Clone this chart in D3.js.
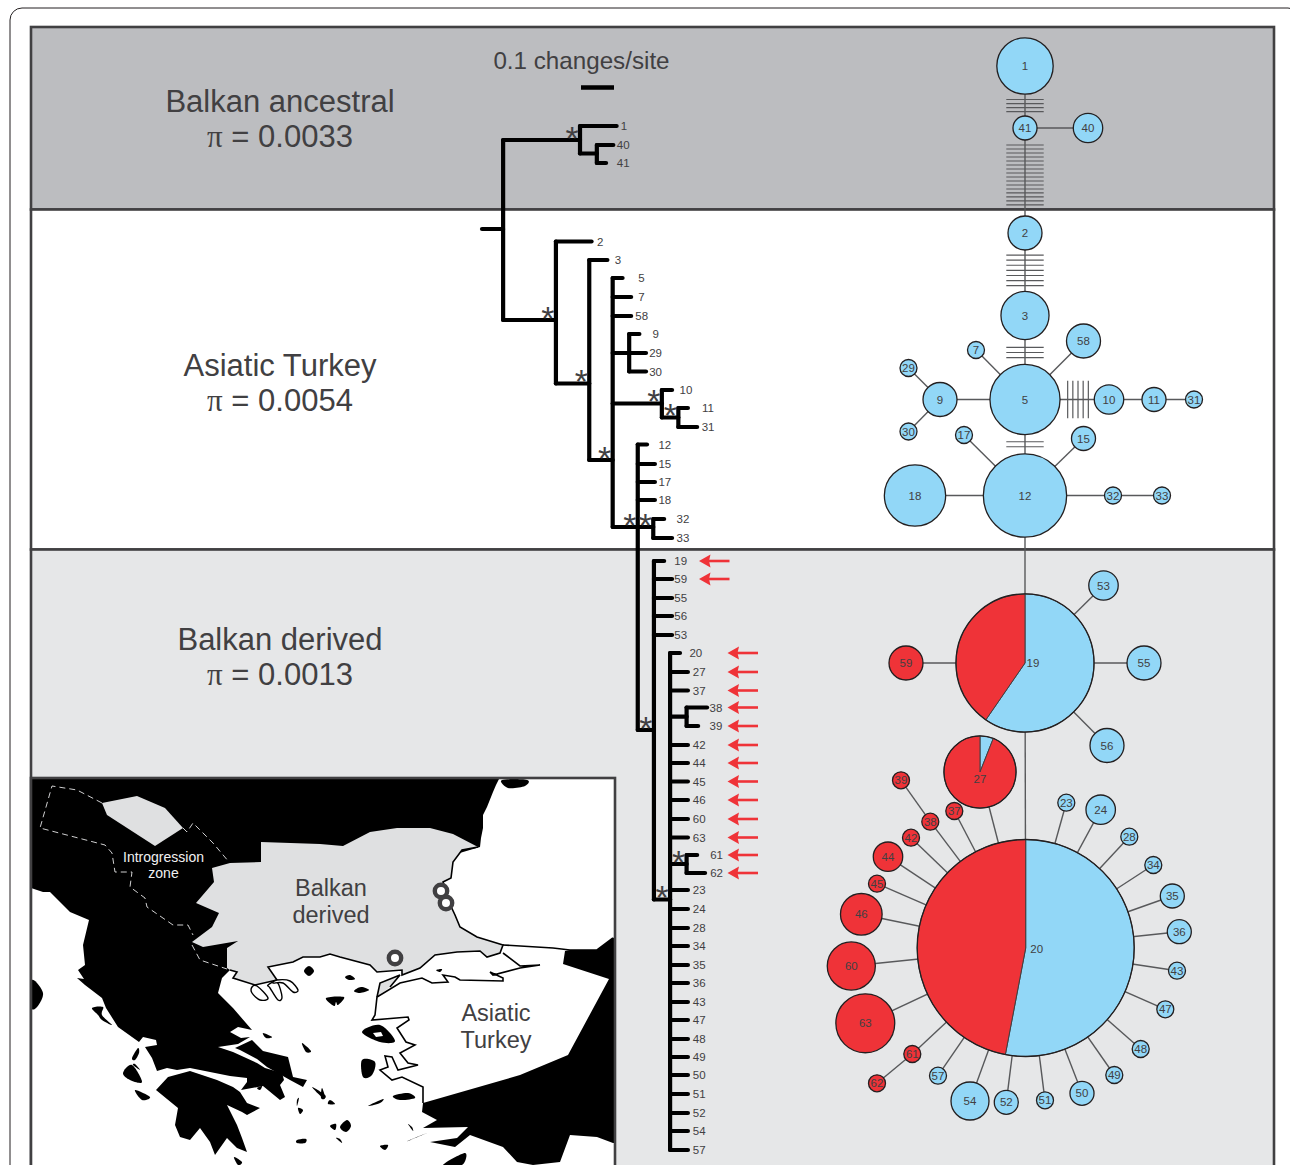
<!DOCTYPE html>
<html>
<head>
<meta charset="utf-8">
<script src="https://d3js.org/d3.v7.min.js"></script>
<style>
  html, body { margin: 0; padding: 0; background: #fff; overflow: hidden; }
  svg { display: block; }
  text { font-family: "Liberation Sans", Arial, sans-serif; fill: #414042; }
</style>
</head>
<body>
<div id="chart"></div>
<script>
const svgWidth = 1290;
const svgHeight = 1165;

// ---- bands
const bandNames = ["Balkan ancestral", "Asiatic Turkey", "Balkan derived"];
const bandPi = ["0.0033", "0.0054", "0.0013"];

// ---- tree, divergence in changes/site, height in tree units from the first tip
const nodeNames   = ["root", "A", "B", "C", "D", "E", "F", "G", "H", "I", "J", "K", "L", "M", "N"];
const nodeParents = [null, "root", "A", "root", "C", "D", "E", "E", "G", "E", "I", "I", "K", "L", "L"];
const nodeDiv     = [.064, .297, .348, .224, .325, .396, .446, .545, .595, .472, .519, .521, .570, .620, .620];
const nodeHeight  = [103, 14, 27.5, 194, 257.5, 334, 227, 277.5, 291.5, 401, 401, 604, 773.5, 590.7, 738];

const tipNames = ["1", "40", "41", "2", "3", "5", "7", "58", "9", "29", "30", "10", "11", "31", "12", "15", "17", "18", "32", "33",
  "19", "59", "55", "56", "53", "20", "27", "37", "38", "39", "42", "44", "45", "46", "60", "63", "61", "62",
  "23", "24", "28", "34", "35", "36", "43", "47", "48", "49", "50", "51", "52", "54", "57"];
const tipParents = ["A", "B", "B", "C", "D", "E", "E", "E", "F", "F", "F", "G", "H", "H", "I", "I", "I", "I", "J", "J",
  "K", "K", "K", "K", "K", "L", "L", "L", "M", "M", "L", "L", "L", "L", "L", "L", "N", "N",
  "L", "L", "L", "L", "L", "L", "L", "L", "L", "L", "L", "L", "L", "L", "L"];
const tipDiv = [.408, .398, .376, .332, .380, .426, .452, .452, .477, .497, .497, .576, .624, .652, .500, .524, .524, .524, .552, .576,
  .552, .576, .576, .576, .576, .600, .624, .624, .682, .655, .624, .624, .624, .624, .624, .624, .652, .676,
  .624, .624, .624, .624, .624, .624, .624, .624, .624, .624, .624, .624, .624, .624, .624];
const tipHeight = [0, 19, 37, 115.5, 134, 152, 171, 190, 208, 227, 245.5, 264, 282, 301, 318.5, 338, 356, 374, 393, 412,
  435, 453, 472, 490, 509, 527, 546, 564.5, 581.5, 600, 619, 637, 655.5, 674, 693, 711.5, 729, 747,
  764, 783, 802, 820, 839, 857, 876, 894, 913, 931, 949, 968, 987, 1005, 1024];
const labelDiv = [.430, .428, .428, .358, .412, .483, .483, .484, .526, .526, .526, .618, .685, .685, .554, .554, .554, .554, .609, .609,
  .602, .602, .602, .602, .602, .648, .658, .658, .709, .709, .658, .658, .658, .658, .658, .658, .711, .711,
  .658, .658, .658, .658, .658, .658, .658, .658, .658, .658, .658, .658, .658, .658, .658];
const supportedNodes = ["A", "C", "D", "E", "G", "H", "I", "J", "K", "L", "N"];
const arrowTips = ["19", "59", "20", "27", "37", "38", "39", "42", "44", "45", "46", "60", "63", "61", "62"];

// ---- haplotype network, offsets in network units, counts of sampled sequences
const hapNames = ["1", "41", "40", "2", "3", "58", "7", "5", "9", "29", "30", "10", "11", "31", "17", "15", "12", "18", "32", "33",
  "19", "53", "55", "56", "59", "27", "20", "23", "24", "28", "34", "35", "36", "43", "47", "48", "49", "50", "51", "52", "54", "57",
  "61", "62", "63", "60", "46", "45", "44", "42", "38", "39", "37"];
const hapDx = [0, 0, 63, 0, 0, 58.5, -49, 0, -85, -116.5, -116.5, 84, 129, 169, -61, 58.5, 0, -110, 88, 137,
  0, 78.5, 119, 82, -119, -45, 0.7, 41.3, 75.7, 104.3, 128.3, 147.3, 154.3, 152, 140.3, 115.7, 89.3, 57, 20, -18.7, -55, -87,
  -112.7, -148, -159.7, -173.7, -163.7, -148, -137, -114, -94.7, -124, -70.7];
const hapDy = [0, 62, 62, 167, 249.5, 275, 284, 333.5, 333.5, 302, 365.5, 333.5, 333.5, 333.5, 369, 372.5, 429.5, 429.5, 429.5, 429.5,
  597, 519.5, 597, 679.5, 597, 706, 882, 736.7, 743.7, 770.7, 799, 830, 865.7, 904.7, 943.3, 983, 1009, 1027.3, 1034.3, 1036.3, 1035, 1009.7,
  988, 1017.3, 957.3, 900, 848.3, 817.7, 790.7, 771.7, 755.7, 714.3, 745];
const hapCount = [11, 2, 3, 4, 8, 4, 1, 17, 4, 1, 1, 3, 2, 1, 1, 2, 24, 13, 1, 1,
  66, 3, 4, 4, 4, 18, 163, 1, 3, 1, 1, 2, 2, 1, 1, 1, 1, 2, 1, 2, 5, 1,
  1, 1, 12, 8, 6, 1, 3, 1, 1, 1, 1];
const hapRedShare = [0, 0, 0, 0, 0, 0, 0, 0, 0, 0, 0, 0, 0, 0, 0, 0, 0, 0, 0, 0,
  .404, 0, 0, 0, 1, .94, .47, 0, 0, 0, 0, 0, 0, 0, 0, 0, 0, 0, 0, 0, 0, 0,
  1, 1, 1, 1, 1, 1, 1, 1, 1, 1, 1];
const hapEdges = [["1", "41"], ["41", "40"], ["41", "2"], ["2", "3"], ["3", "5"], ["5", "58"], ["5", "7"], ["5", "9"], ["9", "29"], ["9", "30"],
  ["5", "10"], ["10", "11"], ["11", "31"], ["5", "12"], ["12", "17"], ["12", "15"], ["12", "18"], ["12", "32"], ["32", "33"], ["12", "19"],
  ["19", "53"], ["19", "55"], ["19", "56"], ["19", "59"], ["19", "20"], ["20", "27"], ["20", "23"], ["20", "24"], ["20", "28"], ["20", "34"],
  ["20", "35"], ["20", "36"], ["20", "43"], ["20", "47"], ["20", "48"], ["20", "49"], ["20", "50"], ["20", "51"], ["20", "52"], ["20", "54"],
  ["20", "57"], ["20", "61"], ["61", "62"], ["20", "63"], ["20", "60"], ["20", "46"], ["20", "45"], ["20", "44"], ["20", "42"], ["20", "38"],
  ["38", "39"], ["20", "37"]];
// mutational steps on the long edges
const stepEdges = [["1", "41"], ["41", "2"], ["2", "3"], ["3", "5"], ["5", "10"], ["5", "12"]];
const stepCounts = [4, 16, 7, 3, 5, 2];

// ---- map outlines
const landBlack = [[31,777],[500,777],[496,785],[493,792],[487,807],[483,815],[483,828],[481,838],[480,847],[300,900],[230,970],[222,978],[218,993],
  [233,1008],[252,1030],[238,1027],[230,1032],[241,1038],[250,1037],[238,1044],[218,1047],[233,1052],[257,1063],[265,1068],[282,1073],[284,1080],[280,1085],
  [285,1097],[280,1100],[263,1086],[241,1090],[247,1082],[247,1078],[230,1076],[190,1068],[177,1070],[167,1068],[157,1071],[152,1058],[145,1047],[157,1045],[156,1040],[143,1037],[139,1042],
  [118,1027],[106,1008],[102,998],[85,985],[77,978],[84,979],[78,970],[85,965],[83,945],[89,920],[70,912],[50,892],[43,892],[31,888]];
const landEuboea = [[252,1040],[263,1051],[288,1057],[293,1077],[307,1080],[303,1087],[290,1080],[267,1067],[257,1059],[240,1050],[235,1048]];
const landPeloponnese = [[156,1090],[168,1077],[190,1071],[217,1080],[233,1087],[240,1092],[247,1103],[260,1108],[247,1115],[242,1112],[227,1105],[237,1125],[242,1138],[247,1152],[237,1148],[227,1138],[215,1155],[210,1142],[200,1128],[190,1140],[180,1137],[175,1125],[178,1108]];
const landEast = [[565,951],[563,964],[609,979],[568,1055],[520,1075],[423,1103],[422,1112],[437,1120],[423,1128],[468,1127],[457,1138],[430,1142],[455,1147],[470,1135],[503,1147],[517,1162],[533,1165],[560,1162],[570,1135],[597,1137],[613,1143],[615,1143],[615,937],[613,938],[597,950],[570,950]];
const islands = [
  [[502,780],[527,780],[525,786],[508,788]], [[32,980],[43,993],[37,1007],[31,1007]], [[92,1008],[103,1007],[102,1015],[112,1025],[102,1020],[98,1015]],
  [[132,1058],[138,1048],[139,1053],[135,1060]], [[123,1073],[132,1065],[142,1082],[130,1080]], [[133,1065],[135,1064],[140,1070]], [[135,1090],[150,1097],[142,1100]],
  [[234,1157],[242,1162],[238,1165]], [[263,1033],[272,1037],[266,1038]], [[302,1043],[311,1051],[306,1052]], [[312,1087],[325,1095],[323,1098]],
  [[297,1100],[299,1098],[297,1106]], [[298,1108],[303,1110],[300,1114]], [[297,1140],[306,1139],[305,1143],[297,1143]], [[257,1088],[262,1086],[260,1090]],
  [[304,971],[309,966],[314,971],[309,976]], [[345,977],[350,975],[355,979],[349,980]], [[354,991],[361,987],[369,990],[360,993]],
  [[326,998],[344,997],[338,1005],[336,1002],[334,1006]], [[362,1032],[380,1025],[395,1041],[380,1042]], [[362,1060],[375,1062],[372,1075],[363,1077]],
  [[436,970],[442,969],[440,972]], [[322,1088],[325,1098],[321,1098]], [[330,1100],[335,1104],[328,1104]], [[368,1106],[383,1099],[380,1103]],
  [[393,1096],[408,1093],[415,1098],[400,1100]], [[330,1126],[336,1124],[335,1130]], [[340,1127],[347,1120],[351,1126],[346,1132]], [[336,1138],[340,1139],[342,1143]],
  [[380,1146],[388,1145],[385,1150]], [[408,1124],[412,1127],[413,1131]], [[408,1141],[427,1133],[412,1139]], [[443,1165],[465,1153],[462,1165]]];
const serbiaPatch = [[102,803],[137,796],[165,808],[183,828],[155,846],[107,815]];
const derivedLand = [[261,842],[320,844],[343,846],[370,832],[397,828],[430,828],[453,834],[478,847],[462,850],[453,862],[451,878],[443,882],[448,900],[455,915],[460,927],[477,937],[503,945],
  [500,953],[487,957],[480,951],[457,952],[435,955],[420,968],[402,975],[402,970],[377,972],[370,965],[340,957],[330,954],[320,957],[303,957],[293,962],[268,967],[277,980],[255,985],[233,978],[237,972],[230,970],
  [227,968],[227,948],[238,941],[203,947],[192,942],[212,927],[219,913],[196,903],[214,882],[212,868],[230,863],[261,862]];
const coastDerived = derivedLand.slice(7, 38);
const coastLoops = [[[252,987],[257,986],[268,998],[260,1000],[252,993]],
  [[268,985],[277,982],[282,997],[278,1000],[270,988]],
  [[277,980],[290,981],[298,990],[293,992],[283,983],[273,983]]];
const gallipoli = [[377,997],[380,983],[400,975],[390,987]];
const coastAsia = [[503,945],[553,948],[570,950],[597,950],[613,938]];
const coastAegean = [[503,953],[520,966],[540,965],[520,968],[493,975],[490,972],[503,978],[503,981],[460,980],[455,977],[443,975],[448,982],[432,983],[422,978],[400,983],[377,997],[375,1015],[372,1020],[408,1017],[409,1020],[397,1028],[406,1042],[415,1045],[400,1053],[408,1063],[418,1065],[398,1070],[392,1057],[385,1056],[388,1067],[380,1070],[392,1080],[402,1077],[423,1087],[423,1103]];
const introgressionLines = [[[102,803],[77,790],[52,786],[40,828],[105,845],[112,853],[115,872],[132,872],[130,887],[145,898],[147,907],[173,925],[188,925],[193,935]],
  [[192,945],[200,960],[227,969]], [[183,828],[187,832],[193,823],[213,843],[229,862]]];
const siteRings = [[441,891], [446,903], [395,958]];

const svg = d3
  .select("#chart")
  .append("svg")
  .attr("width", svgWidth)
  .attr("height", svgHeight);

// page frame
svg.append("rect").attr("x", 10).attr("y", 8).attr("width", 1290).attr("height", 1260).attr("rx", 12)
  .attr("fill", "#fff").attr("stroke", "#231f20").attr("stroke-width", 1);

// bands
const bandX = 31, bandRight = 1274;
const bandTops = [27, 209.5, 549.5];
const bandBottoms = [209.5, 549.5, 1200];
const bandFills = ["#bcbdc0", "#ffffff", "#e6e7e8"];
const bandTitleY = [101, 365, 639];
bandNames.forEach((name, i) => {
  svg.append("rect").attr("x", bandX).attr("y", bandTops[i]).attr("width", bandRight - bandX).attr("height", bandBottoms[i] - bandTops[i])
    .attr("fill", bandFills[i]).attr("stroke", "#414042").attr("stroke-width", 2.6);
  svg.append("text").attr("x", 280).attr("y", bandTitleY[i] + 10.5).attr("text-anchor", "middle")
    .attr("font-size", 31).text(name);
  const pi = svg.append("text").attr("x", 280).attr("y", bandTitleY[i] + 45.5).attr("text-anchor", "middle").attr("font-size", 31);
  pi.append("tspan").style("font-family", "'Liberation Serif', serif").text("\u03c0");
  pi.append("tspan").text(" = " + bandPi[i]);
});

// map
const outline = d3.line();
const blob = d3.line().curve(d3.curveCardinalClosed.tension(0));
const map = svg.append("g");
map.append("rect").attr("x", bandX).attr("y", 778).attr("width", 584).attr("height", 420).attr("fill", "#fff");
[landBlack, landEuboea, landPeloponnese, landEast].forEach(p => {
  map.append("path").attr("d", outline(p) + "Z").attr("fill", "#000");
});
map.selectAll(".island").data(islands).enter().append("path").attr("class", "island")
  .attr("d", d => blob(d)).attr("fill", "#000");
map.append("path").attr("d", outline([[373,1033],[381,1032],[383,1036],[376,1037]]) + "Z").attr("fill", "#fff");
map.append("path").attr("d", outline(serbiaPatch) + "Z").attr("fill", "#dfe0e1");
map.append("path").attr("d", outline(derivedLand) + "Z").attr("fill", "#dfe0e1");
map.append("path").attr("d", outline(gallipoli) + "Z").attr("fill", "#dfe0e1");
[coastDerived, coastAsia, coastAegean, gallipoli].forEach(p => {
  map.append("path").attr("d", outline(p)).attr("fill", "none").attr("stroke", "#000").attr("stroke-width", 1.6);
});
coastLoops.forEach(p => {
  map.append("path").attr("d", blob(p)).attr("fill", "#fff").attr("stroke", "#000").attr("stroke-width", 1.4);
});
introgressionLines.forEach(p => {
  map.append("path").attr("d", outline(p)).attr("fill", "none").attr("stroke", "#e6e7e8")
    .attr("stroke-width", 0.9).attr("stroke-dasharray", "6 4");
});
map.selectAll(".ring").data(siteRings).enter().append("circle").attr("class", "ring")
  .attr("cx", d => d[0]).attr("cy", d => d[1]).attr("r", 6.2)
  .attr("fill", "#fff").attr("stroke", "#414042").attr("stroke-width", 4.4);
map.append("rect").attr("x", bandX).attr("y", 778).attr("width", 584).attr("height", 420)
  .attr("fill", "none").attr("stroke", "#414042").attr("stroke-width", 2.6);

const mapLabels = [["Balkan", 331, 896, 23.5, "#414042"], ["derived", 331, 923, 23.5, "#414042"],
  ["Asiatic", 496, 1021, 23.5, "#414042"], ["Turkey", 496, 1048, 23.5, "#414042"],
  ["Introgression", 163.5, 862, 14, "#f1f1f2"], ["zone", 163.5, 878, 14, "#f1f1f2"]];
mapLabels.forEach(l => {
  svg.append("text").attr("x", l[1]).attr("y", l[2]).attr("text-anchor", "middle")
    .attr("font-size", l[3]).style("fill", l[4]).text(l[0]);
});

// scale bar + tree
const xTree = d3.scaleLinear().domain([0, 1]).range([482, 812]);
const yTree = d3.scaleLinear().domain([0, 1024]).range([126, 1150]);

svg.append("text").attr("x", 581.5).attr("y", 68.5).attr("text-anchor", "middle").attr("font-size", 24.2).text("0.1 changes/site");
svg.append("line").attr("x1", xTree(.3)).attr("x2", xTree(.4)).attr("y1", 87.5).attr("y2", 87.5)
  .attr("stroke", "#000").attr("stroke-width", 4.4);

const nodePos = {};
nodeNames.forEach((n, i) => {
  nodePos[n] = { div: nodeDiv[i], h: nodeHeight[i], parent: nodeParents[i] };
});
const branchPath = [];
const childHeights = {};
function addChild(parent, h) {
  (childHeights[parent] = childHeights[parent] || []).push(h);
}
nodeNames.forEach((n, i) => {
  if (nodeParents[i]) addChild(nodeParents[i], nodeHeight[i]);
  const from = nodeParents[i] ? xTree(nodePos[nodeParents[i]].div) : xTree(0);
  branchPath.push([from, yTree(nodeHeight[i]), xTree(nodeDiv[i]), yTree(nodeHeight[i])]);
});
tipNames.forEach((n, i) => {
  addChild(tipParents[i], tipHeight[i]);
  branchPath.push([xTree(nodePos[tipParents[i]].div), yTree(tipHeight[i]), xTree(tipDiv[i]), yTree(tipHeight[i])]);
});
nodeNames.forEach((n, i) => {
  const kids = childHeights[n].concat(nodeHeight[i]);
  branchPath.push([xTree(nodeDiv[i]), yTree(d3.min(kids)), xTree(nodeDiv[i]), yTree(d3.max(kids))]);
});

svg.append("g").selectAll("line").data(branchPath).enter().append("line")
  .attr("x1", d => d[0]).attr("y1", d => d[1]).attr("x2", d => d[2]).attr("y2", d => d[3])
  .attr("stroke", "#000").attr("stroke-width", 4.2).attr("stroke-linecap", "round");

svg.append("g").selectAll("text").data(tipNames).enter().append("text")
  .attr("x", (d, i) => xTree(labelDiv[i]))
  .attr("y", (d, i) => yTree(tipHeight[i]) + 4)
  .attr("text-anchor", "middle").attr("font-size", 11.5).text(d => d);

svg.append("g").selectAll("text").data(supportedNodes).enter().append("text")
  .attr("x", d => xTree(nodePos[d].div) - 8)
  .attr("y", d => yTree(nodePos[d].h) + 9.5)
  .attr("text-anchor", "middle").attr("font-size", 34).text("*");

// red arrows on the introgressed tips
const arrow = svg.append("g");
arrowTips.forEach(t => {
  const i = tipNames.indexOf(t);
  const y = yTree(tipHeight[i]);
  const head = tipParents[i] === "K" ? 699 : 727.5;
  arrow.append("line").attr("x1", head + 8).attr("x2", head + 30.5).attr("y1", y).attr("y2", y)
    .attr("stroke", "#ef3338").attr("stroke-width", 2.6);
  arrow.append("path").attr("d", d3.line()([[head, y], [head + 11.5, y - 6.5], [head + 10, y], [head + 11.5, y + 6.5]]) + "Z").attr("fill", "#ef3338");
});

// network
const netX = d3.scaleLinear().domain([0, 100]).range([1025, 1125]);
const netY = d3.scaleLinear().domain([0, 100]).range([66, 166]);
const netR = d3.scaleSqrt().domain([0, 1]).range([0, 8.5]);
const blue = "#92d7f7", red = "#ef3338";
const haps = hapNames.map((n, i) => ({
  name: n, x: netX(hapDx[i]), y: netY(hapDy[i]), r: netR(hapCount[i]), redShare: hapRedShare[i]
}));
const hapBy = {};
haps.forEach(h => { hapBy[h.name] = h; });

const net = svg.append("g");
net.selectAll(".edge").data(hapEdges).enter().append("line").attr("class", "edge")
  .attr("x1", d => hapBy[d[0]].x).attr("y1", d => hapBy[d[0]].y)
  .attr("x2", d => hapBy[d[1]].x).attr("y2", d => hapBy[d[1]].y)
  .attr("stroke", "#58595b").attr("stroke-width", 1.4);

// hatch placement along each edge, fraction of centre-to-centre distance
const stepSpans = [[.54, .737], [.162, .733], [.267, .639], [.379, .502], [.508, .754], [.44, .492]];
stepEdges.forEach((e, i) => {
  const a = hapBy[e[0]], b = hapBy[e[1]];
  const n = stepCounts[i];
  d3.range(n).forEach(k => {
    const t = stepSpans[i][0] + (stepSpans[i][1] - stepSpans[i][0]) * k / (n - 1);
    const cx = a.x + (b.x - a.x) * t, cy = a.y + (b.y - a.y) * t;
    const vertical = a.x === b.x;
    net.append("line")
      .attr("x1", vertical ? cx - 18.7 : cx).attr("x2", vertical ? cx + 18.7 : cx)
      .attr("y1", vertical ? cy : cy - 18.7).attr("y2", vertical ? cy : cy + 18.7)
      .attr("stroke", "#58595b").attr("stroke-width", 1.2);
  });
});

const pie = d3.pie().sort(null).value(d => d);
haps.forEach(h => {
  const g = net.append("g").attr("transform", `translate(${h.x},${h.y})`);
  if (h.redShare > 0 && h.redShare < 1) {
    const arc = d3.arc().innerRadius(0).outerRadius(h.r);
    g.selectAll("path").data(pie([1 - h.redShare, h.redShare])).enter().append("path")
      .attr("d", arc).attr("fill", (d, i) => i === 0 ? blue : red)
      .attr("stroke", "#414042").attr("stroke-width", 1);
    g.append("circle").attr("r", h.r).attr("fill", "none").attr("stroke", "#231f20").attr("stroke-width", 1.3);
  } else {
    g.append("circle").attr("r", h.r).attr("fill", h.redShare === 1 ? red : blue)
      .attr("stroke", "#231f20").attr("stroke-width", 1.3);
  }
  const off = { "19": [8, 0], "20": [11, 1], "27": [0, 7] }[h.name] || [0, 0];
  g.append("text").attr("x", off[0]).attr("y", off[1] + 4).attr("text-anchor", "middle")
    .attr("font-size", 11.5).text(h.name);
});
</script>
</body>
</html>
